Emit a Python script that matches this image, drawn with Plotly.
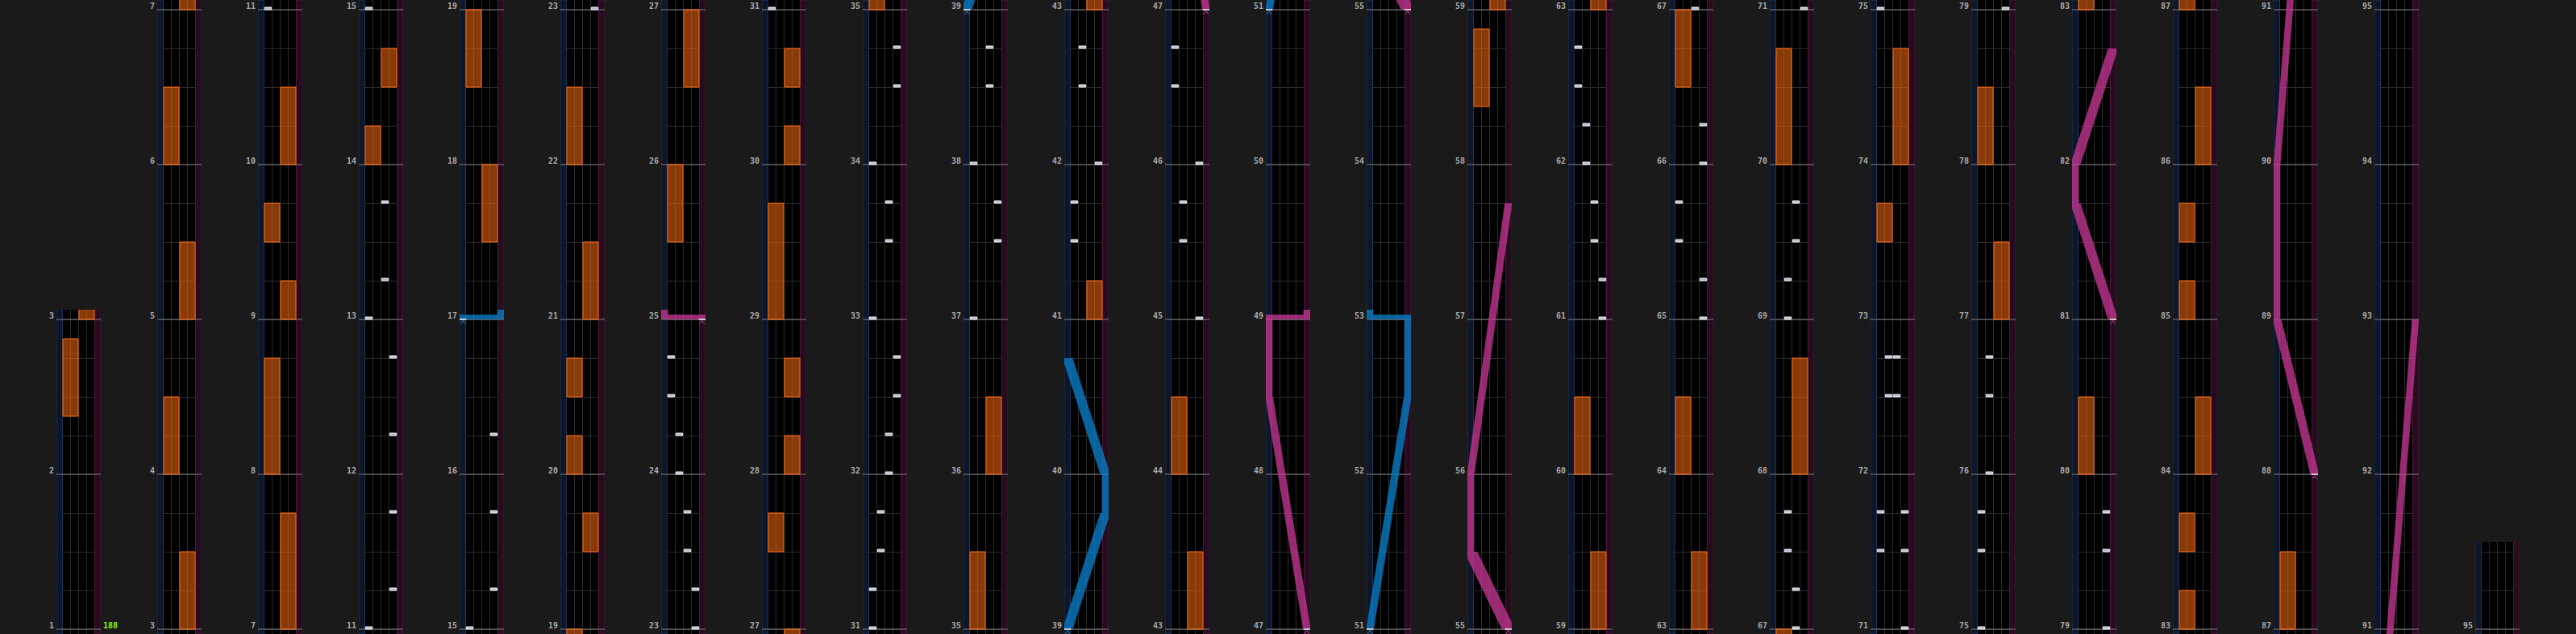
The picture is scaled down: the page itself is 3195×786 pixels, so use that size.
import math
import plotly.graph_objects as go

# ---------------- chart data ----------------
TOTAL_MEASURES = 95
END_MEASURE, END_BEAT = 95, 2          # chart ends here
BEATS_PER_MEASURE = 4
FIRST_COLUMN_MEASURES = 2
MEASURES_PER_COLUMN = 4

# BPM changes: (measure, beat, bpm)
bpm_changes = [(1, 0, 188)]

# BT chips: (measure, beat, lane 0..3 = A..D)
bt_chips = [
    (11, 0, 0), (11, 1, 3), (11, 3, 3),
    (12, 1, 3), (12, 3, 3),
    (13, 0, 0), (13, 1, 2), (13, 3, 2),
    (15, 0, 0), (15, 1, 3), (15, 3, 3),
    (16, 1, 3),
    (23, 0, 3), (23, 1, 3), (23, 2, 2), (23, 3, 2),
    (24, 0, 1), (24, 1, 1), (24, 2, 0), (24, 3, 0),
    (31, 0, 0), (31, 1, 0), (31, 2, 1), (31, 3, 1),
    (32, 0, 2), (32, 1, 2), (32, 2, 3), (32, 3, 3),
    (33, 0, 0), (33, 2, 2), (33, 3, 2),
    (34, 0, 0), (34, 2, 3), (34, 3, 3),
    (37, 0, 0), (37, 2, 3), (37, 3, 3),
    (38, 0, 0), (38, 2, 2), (38, 3, 2),
    (41, 2, 0), (41, 3, 0),
    (42, 0, 3), (42, 2, 1), (42, 3, 1),
    (45, 0, 3), (45, 2, 1), (45, 3, 1),
    (46, 0, 3), (46, 2, 0), (46, 3, 0),
    (61, 0, 3), (61, 1, 3), (61, 2, 2), (61, 3, 2),
    (62, 0, 1), (62, 1, 1), (62, 2, 0), (62, 3, 0),
    (65, 0, 3), (65, 1, 3), (65, 2, 0), (65, 3, 0),
    (66, 0, 3), (66, 1, 3),
    (67, 0, 2), (67, 1, 2), (67, 2, 1), (67, 3, 1),
    (69, 0, 1), (69, 1, 1), (69, 2, 2), (69, 3, 2),
    (71, 0, 3), (71, 2, 0), (71, 2, 3), (71, 3, 0), (71, 3, 3),
    (72, 2, 1), (72, 2, 2), (72, 3, 1), (72, 3, 2),
    (75, 0, 0), (75, 2, 0), (75, 3, 0),
    (76, 0, 1), (76, 2, 1), (76, 3, 1),
    (79, 0, 3), (79, 2, 3), (79, 3, 3),
]

# FX holds: (measure, beat, side 0=L 1=R, length in beats)
fx_holds = [
    (2, 1.5, 0, 2), (3, 0, 1, 2), (4, 0, 0, 2), (5, 0, 1, 2), (6, 0, 0, 2),
    (7, 0, 1, 3), (8, 0, 0, 3), (9, 0, 1, 1), (9, 2, 0, 1), (10, 0, 1, 2),
    (14, 0, 0, 1), (14, 2, 1, 1), (17, 2, 1, 2), (18, 2, 0, 2),
    (19, 2, 1, 1), (20, 0, 0, 1), (20, 2, 0, 1), (21, 0, 1, 2), (22, 0, 0, 2),
    (25, 2, 0, 2), (26, 2, 1, 2), (27, 2, 0, 1), (28, 0, 1, 1), (28, 2, 1, 1),
    (29, 0, 0, 3), (30, 0, 1, 1), (30, 2, 1, 1),
    (35, 0, 0, 2), (36, 0, 1, 2), (41, 0, 1, 1), (43, 0, 1, 2), (44, 0, 0, 2),
    (58, 1.5, 0, 2), (59, 0, 1, 2), (60, 0, 0, 2), (63, 0, 1, 2), (64, 0, 0, 2),
    (66, 2, 0, 2), (68, 0, 1, 3), (70, 0, 0, 3), (73, 2, 0, 1), (74, 0, 1, 3),
    (77, 0, 1, 2), (78, 0, 0, 2), (80, 0, 0, 2),
    (83, 0, 0, 1), (83, 2, 0, 1), (84, 0, 1, 2), (85, 0, 0, 1), (85, 2, 0, 1),
    (86, 0, 1, 2), (87, 0, 0, 2),
]

# Lasers: list of points (measure, beat, position 0=left .. 1=right)
blue_lasers = [
    [(17, 0, 0.0), (17, 0, 1.0)],
    [(39, 0, 0.0), (39, 3, 1.0), (40, 0, 1.0), (40, 3, 0.0)],
    [(51, 0, 0.0), (52, 2, 1.0), (53, 0, 1.0), (53, 0, 0.0)],
]
pink_lasers = [
    [(25, 0, 1.0), (25, 0, 0.0)],
    [(47, 0, 1.0), (48, 2, 0.0), (49, 0, 0.0), (49, 0, 1.0)],
    [(55, 0, 1.0), (55, 2, 0.0), (56, 0, 0.0), (57, 3, 1.0)],
    [(81, 0, 1.0), (81, 3, 0.0), (82, 0, 0.0), (82, 3, 1.0)],
    [(88, 0, 1.0), (89, 0, 0.0), (90, 0, 0.0), (93, 0, 1.0)],
]

# ---------------- layout / style ----------------
W, H = 3195, 786
COL_X0, COL_STEP, COL_W = 70, 125, 55
PX_PER_BEAT = 48
PAD_BOTTOM, PAD_TOP = 0.125, 0.25      # beats of overlap shown below/above
BG = "#1a1a1a"
GRID = "#2b2b2b"
MEASURE_LINE = "#808080"
LSTRIP_FILL, LSTRIP_EDGE = "#0e1629", "#1d3552"
RSTRIP_FILL, RSTRIP_EDGE = "#270c1f", "#4a183b"
FX_FILL, FX_EDGE = "rgba(235,100,15,0.58)", "#ff6c14"
CHIP_FILL, CHIP_EDGE = "#b4bccb", "#f4f7fc"
BLUE, BLUE_MARK = "rgba(10,125,200,0.78)", "#2a80bb"
PINK, PINK_MARK = "rgba(200,55,150,0.76)", "#b3438f"
LABEL_COLOR = "#a9a9a9"
BPM_COLOR = "#80ff00"
LASER_X0, LASER_SPAN, LASER_HW = -0.335, 4.67, 0.415
SLOPE_K = 3.5


def t_of(m, b):
    return (m - 1) * BEATS_PER_MEASURE + b


ncols = 1 + math.ceil((TOTAL_MEASURES - FIRST_COLUMN_MEASURES) / MEASURES_PER_COLUMN)


def col_start(k):
    if k == 0:
        return 0.0
    return t_of(FIRST_COLUMN_MEASURES + 1 + (k - 1) * MEASURES_PER_COLUMN, 0)


def col_end(k):
    return col_start(k + 1) if k < ncols - 1 else t_of(END_MEASURE, END_BEAT)


def lx(p):
    return LASER_X0 + LASER_SPAN * p


def poly_xy(polys):
    xs, ys = [], []
    for p in polys:
        for (x, y) in p:
            xs.append(x)
            ys.append(y)
        xs.append(p[0][0])
        ys.append(p[0][1])
        xs.append(None)
        ys.append(None)
    return xs, ys


def rect(x0, x1, y0, y1):
    return [(x0, y0), (x1, y0), (x1, y1), (x0, y1)]


def laser_geometry(laser):
    pts = [(t_of(m, b), lx(p)) for (m, b, p) in laser]
    polys = []
    for i in range(len(pts) - 1):
        (t1, x1), (t2, x2) = pts[i], pts[i + 1]
        if abs(t2 - t1) < 1e-9:
            lo, hi = min(x1, x2), max(x1, x2)
            polys.append(rect(lo - LASER_HW, hi + LASER_HW, t1, t1 + 0.125))
            if i == len(pts) - 2:
                polys.append(rect(x2 - LASER_HW, x2 + LASER_HW, t1, t1 + 0.25))
        else:
            tan = ((x2 - x1) * 10.0) / ((t2 - t1) * PX_PER_BEAT)
            h = LASER_HW * math.sqrt(1 + (SLOPE_K * tan) ** 2)
            polys.append([(x1 - h, t1), (x1 + h, t1), (x2 + h, t2), (x2 - h, t2)])
    tmin = pts[0][0] - 0.2
    tmax = max(p[0] for p in pts) + 0.3
    return polys, pts[0], tmin, tmax


blue_geo = [laser_geometry(l) for l in blue_lasers]
pink_geo = [laser_geometry(l) for l in pink_lasers]

fig = go.Figure()
annotations = []

for k in range(ncols):
    ts, te = col_start(k), col_end(k)
    tlo, thi = ts - PAD_BOTTOM, te + PAD_TOP
    sfx = "" if k == 0 else str(k + 1)
    xa, ya = "x" + sfx, "y" + sfx
    x0px = COL_X0 + COL_STEP * k
    fig.layout["xaxis" + sfx] = dict(
        domain=[x0px / W, (x0px + COL_W) / W], range=[-0.75, 4.75], anchor=ya,
        tickvals=[1, 2, 3], showgrid=True, gridcolor=GRID, gridwidth=1,
        showticklabels=False, ticks="", zeroline=False, showline=False, fixedrange=True)
    fig.layout["yaxis" + sfx] = dict(
        domain=[0, min(1.0, (thi - tlo) * PX_PER_BEAT / H)], range=[tlo, thi], anchor=xa,
        tickmode="linear", tick0=0, dtick=1, showgrid=True, gridcolor=GRID, gridwidth=1,
        showticklabels=False, ticks="", zeroline=False, showline=False, fixedrange=True)

    def add_poly(polys, fill, edge, width):
        if not polys:
            return
        xs, ys = poly_xy(polys)
        fig.add_trace(go.Scatter(x=xs, y=ys, mode="lines", fill="toself", fillcolor=fill,
                                 line=dict(color=edge, width=width), hoverinfo="skip",
                                 showlegend=False, xaxis=xa, yaxis=ya))

    def add_lines(segs, color, width):
        if not segs:
            return
        xs, ys = [], []
        for s in segs:
            for (x, y) in s:
                xs.append(x)
                ys.append(y)
            xs.append(None)
            ys.append(None)
        fig.add_trace(go.Scatter(x=xs, y=ys, mode="lines", line=dict(color=color, width=width),
                                 hoverinfo="skip", showlegend=False, xaxis=xa, yaxis=ya))

    def visible(a, b):
        return b >= tlo and a <= thi

    # side laser strips
    add_poly([rect(-0.75, 0.0, tlo, thi)], LSTRIP_FILL, LSTRIP_EDGE, 1)
    add_poly([rect(4.0, 4.75, tlo, thi)], RSTRIP_FILL, RSTRIP_EDGE, 1)

    # measure lines + labels
    segs = []
    for m in range(1, TOTAL_MEASURES + 2):
        t = t_of(m, 0)
        if tlo <= t <= thi and t <= t_of(END_MEASURE, END_BEAT):
            segs.append([(-0.75, t), (4.75, t)])
            annotations.append(dict(
                text="<b>%d</b>" % m, x=-0.75, y=t, xref=xa, yref=ya, xanchor="right",
                yanchor="bottom", xshift=-1, yshift=-3, showarrow=False,
                font=dict(family="DejaVu Sans Mono", size=10, color=LABEL_COLOR)))
    add_lines(segs, MEASURE_LINE, 1)

    # BPM labels
    for (m, b, bpm) in bpm_changes:
        t = t_of(m, b)
        if ts <= t <= te:
            annotations.append(dict(
                text="<b>%d</b>" % bpm, x=4.75, y=t, xref=xa, yref=ya, xanchor="left",
                yanchor="bottom", xshift=1, yshift=-3, showarrow=False,
                font=dict(family="DejaVu Sans Mono", size=10, color=BPM_COLOR)))

    # FX holds
    fxp = []
    for (m, b, side, length) in fx_holds:
        t1 = t_of(m, b)
        t2 = t1 + length
        if visible(t1, t2):
            fxp.append(rect(2 * side + 0.05, 2 * side + 1.95, t1, t2))
    add_poly(fxp, FX_FILL, FX_EDGE, 1)

    # BT chips
    cp = []
    for (m, b, lane) in bt_chips:
        t = t_of(m, b)
        if visible(t, t + 0.07):
            cp.append(rect(lane + 0.08, lane + 0.92, t, t + 3.0 / PX_PER_BEAT))
    add_poly(cp, CHIP_FILL, CHIP_EDGE, 1)

    # lasers
    for geo, color, mark in ((blue_geo, BLUE, BLUE_MARK), (pink_geo, PINK, PINK_MARK)):
        polys, marks_w, marks_c = [], [], []
        for (lp, (t0, x0), tmin, tmax) in geo:
            if visible(tmin, tmax):
                polys.extend(lp)
                marks_w.append([(x0 - LASER_HW, t0), (x0 + LASER_HW, t0)])
                marks_c.append([(x0 - 0.28, t0 - 0.12), (x0, t0 - 0.03), (x0 + 0.28, t0 - 0.12)])
        add_poly(polys, color, "rgba(0,0,0,0)", 0)
        add_lines(marks_w, "#f0f0f0", 1.5)
        add_lines(marks_c, mark, 1)

fig.update_layout(
    width=W, height=H, autosize=False,
    margin=dict(l=0, r=0, t=0, b=0, pad=0),
    paper_bgcolor=BG, plot_bgcolor="#000000",
    showlegend=False, annotations=annotations,
)

fig.write_html(
    "out.html",
    config={"displayModeBar": False},
    post_script="document.body.style.margin='0';document.body.style.background='#1a1a1a';"
                "document.body.style.overflow='hidden';",
)
